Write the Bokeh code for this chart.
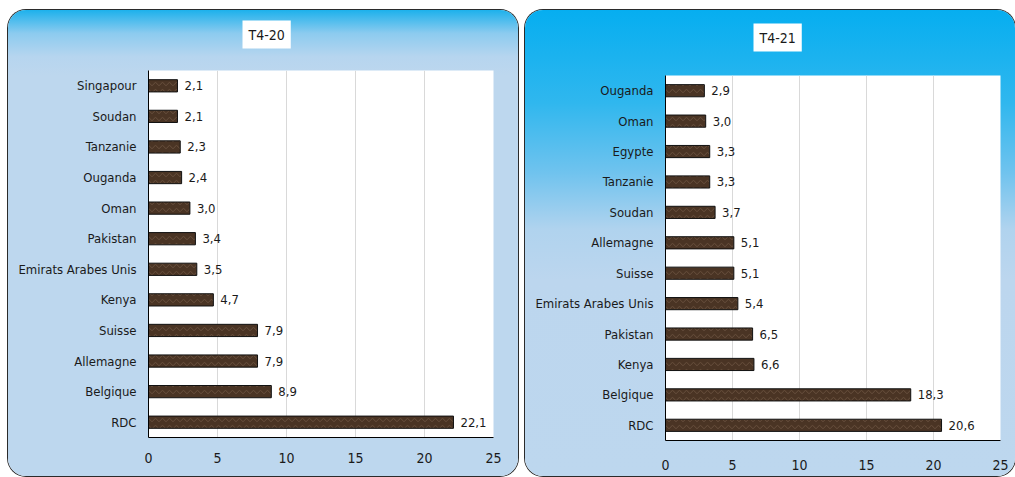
from bokeh.plotting import figure
from bokeh.models import ColumnDataSource, FactorRange, Range1d, FixedTicker, Title
from bokeh.layouts import row, column
from bokeh.core.properties import value
from bokeh.embed import file_html
from bokeh.resources import INLINE

FONT = "DejaVu Sans Condensed, sans-serif"

# ---- data ----
title_left = "T4-20"
countries_left = ["Singapour", "Soudan", "Tanzanie", "Ouganda", "Oman", "Pakistan",
                  "Emirats Arabes Unis", "Kenya", "Suisse", "Allemagne", "Belgique", "RDC"]
values_left = [2.1, 2.1, 2.3, 2.4, 3.0, 3.4, 3.5, 4.7, 7.9, 7.9, 8.9, 22.1]

title_right = "T4-21"
countries_right = ["Ouganda", "Oman", "Egypte", "Tanzanie", "Soudan", "Allemagne", "Suisse",
                   "Emirats Arabes Unis", "Pakistan", "Kenya", "Belgique", "RDC"]
values_right = [2.9, 3.0, 3.3, 3.3, 3.7, 5.1, 5.1, 5.4, 6.5, 6.6, 18.3, 20.6]

x_ticks = [0, 5, 10, 15, 20, 25]


def make_panel(title, countries, values, width, height, bl, br, bt, bb,
               title_offset, spacer, x_standoff):
    labels = [f"{v:.1f}".replace(".", ",") for v in values]
    src = ColumnDataSource(dict(country=countries, value=values, label=labels))
    p = figure(width=width, height=height, title=title,
               y_range=FactorRange(factors=list(reversed(countries)), range_padding=0),
               x_range=Range1d(0, 25),
               output_backend="svg", toolbar_location=None,
               min_border_left=bl, min_border_right=br,
               min_border_top=bt, min_border_bottom=bb,
               border_fill_color=None, background_fill_color="white",
               outline_line_color=None)
    p.hbar(y="country", right="value", left=0, height=0.4, source=src,
           fill_color="#4a3424", line_color="#111111", line_width=1,
           hatch_pattern="horizontal_wave", hatch_color="#8a6e58",
           hatch_alpha=0.45, hatch_scale=7, hatch_weight=1)
    p.text(x="value", y="country", text="label", source=src,
           x_offset=7, text_baseline="middle", text_align="left",
           text_font=value(FONT), text_font_size="13px", text_color="#1a1a1a")

    # spacer between frame and title box
    p.add_layout(Title(text=" ", text_font_size="1px", standoff=spacer,
                       border_line_color=None, background_fill_color=None), "above")

    p.title.align = "left"
    p.title.vertical_align = "bottom"
    p.title.offset = title_offset
    p.title.standoff = 10
    p.title.text_font = FONT
    p.title.text_font_size = "14px"
    p.title.text_font_style = "normal"
    p.title.text_color = "#1a1a1a"
    p.title.background_fill_color = "white"
    p.title.padding = 6

    p.xaxis.ticker = FixedTicker(ticks=x_ticks)
    p.xaxis.axis_line_color = "black"
    p.xaxis.major_tick_line_color = None
    p.xaxis.minor_tick_line_color = None
    p.xaxis.major_tick_out = 0
    p.xaxis.major_tick_in = 0
    p.xaxis.major_label_standoff = x_standoff
    p.xaxis.major_label_text_font = FONT
    p.xaxis.major_label_text_font_size = "14px"
    p.xaxis.major_label_text_color = "#1a1a1a"

    p.yaxis.axis_line_color = "black"
    p.yaxis.major_tick_line_color = None
    p.yaxis.minor_tick_line_color = None
    p.yaxis.major_tick_out = 0
    p.yaxis.major_tick_in = 0
    p.yaxis.major_label_standoff = 12
    p.yaxis.major_label_text_font = FONT
    p.yaxis.major_label_text_font_size = "13px"
    p.yaxis.major_label_text_color = "#1a1a1a"

    p.xgrid.grid_line_color = "#d9d9d9"
    p.ygrid.grid_line_color = None
    return p


def boxed(p, gradient, margin):
    return column(p, margin=margin,
                  styles={"background": gradient,
                          "box-shadow": "0 0 0 1px #2b2b2b",
                          "border-radius": "18px"})


p1 = make_panel(title_left, countries_left, values_left, 510, 466,
                140, 25, 60, 39, 94, 14, 15)
p2 = make_panel(title_right, countries_right, values_right, 490, 466,
                140, 15, 65, 36, 88, 16, 19)

b1 = boxed(p1, "linear-gradient(to bottom, #1db1ec 0%, #8ccbef 5%, #b6d5ef 10%, #bdd7ee 14%, #bdd7ee 100%)",
           (10, 0, 0, 8))
b2 = boxed(p2, "linear-gradient(to bottom, #06aef0 0%, #30b7ee 20%, #70c3ee 35%, #b0d3ee 47%, #bcd6ee 58%, #bdd7ee 100%)",
           (10, 0, 0, 0))

layout = row(b1, b2, spacing=7)
open("out.html", "w").write(file_html(layout, INLINE))
